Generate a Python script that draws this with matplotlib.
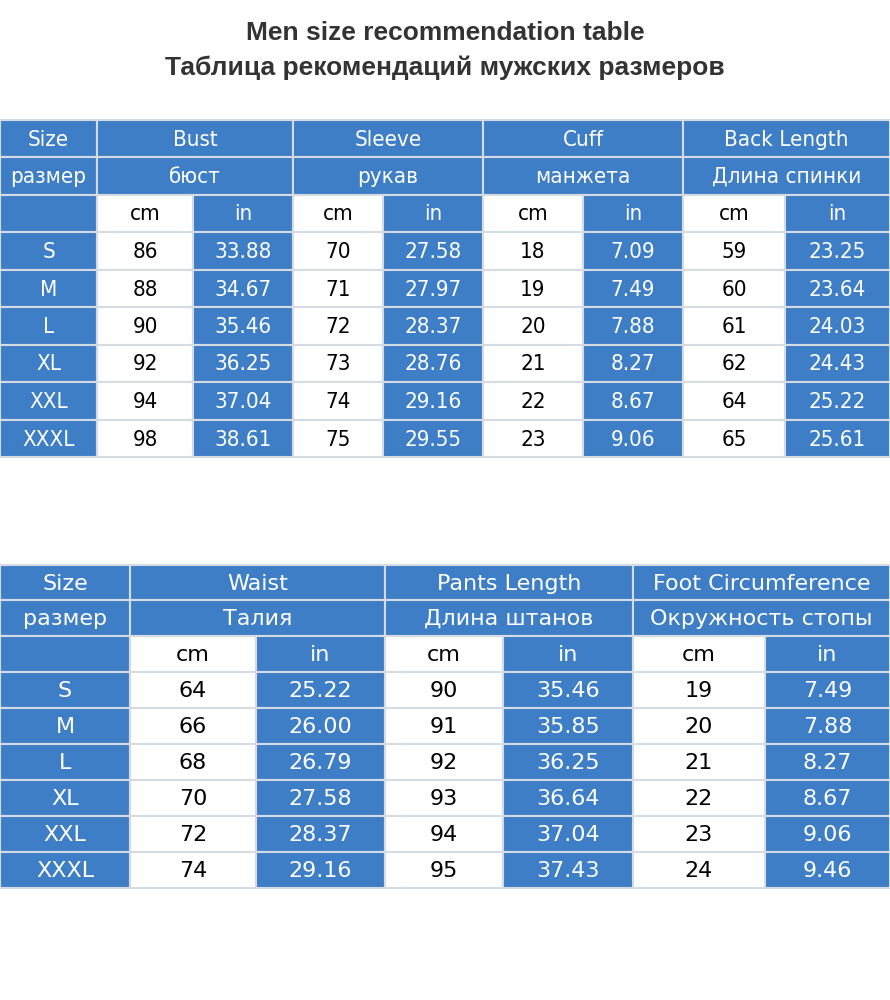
import matplotlib.pyplot as plt
from matplotlib.patches import Rectangle

BLUE = '#3d7ec6'
LINE = '#d4dbe3'

title_en = "Men size recommendation table"
title_ru = "Таблица рекомендаций мужских размеров"

sizes = ['S', 'M', 'L', 'XL', 'XXL', 'XXXL']

top_groups_en = ['Bust', 'Sleeve', 'Cuff', 'Back Length']
top_groups_ru = ['бюст', 'рукав', 'манжета', 'Длина спинки']
bust_cm = ['86', '88', '90', '92', '94', '98']
bust_in = ['33.88', '34.67', '35.46', '36.25', '37.04', '38.61']
sleeve_cm = ['70', '71', '72', '73', '74', '75']
sleeve_in = ['27.58', '27.97', '28.37', '28.76', '29.16', '29.55']
cuff_cm = ['18', '19', '20', '21', '22', '23']
cuff_in = ['7.09', '7.49', '7.88', '8.27', '8.67', '9.06']
back_cm = ['59', '60', '61', '62', '64', '65']
back_in = ['23.25', '23.64', '24.03', '24.43', '25.22', '25.61']

bot_groups_en = ['Waist', 'Pants Length', 'Foot Circumference']
bot_groups_ru = ['Талия', 'Длина штанов', 'Окружность стопы']
waist_cm = ['64', '66', '68', '70', '72', '74']
waist_in = ['25.22', '26.00', '26.79', '27.58', '28.37', '29.16']
pants_cm = ['90', '91', '92', '93', '94', '95']
pants_in = ['35.46', '35.85', '36.25', '36.64', '37.04', '37.43']
foot_cm = ['19', '20', '21', '22', '23', '24']
foot_in = ['7.49', '7.88', '8.27', '8.67', '9.06', '9.46']

fig = plt.figure(figsize=(8.9, 10), dpi=100)
ax = fig.add_axes([0, 0, 1, 1])
ax.set_xlim(0, 890)
ax.set_ylim(1000, 0)
ax.axis('off')


def cell(x0, x1, y0, y1, text, blue, fs, font):
    ax.add_patch(Rectangle((x0, y0), x1 - x0, y1 - y0, facecolor=BLUE if blue else 'white',
                           edgecolor=LINE, linewidth=1.5))
    ax.text((x0 + x1) / 2, (y0 + y1) / 2 + 1, text, ha='center', va='center', fontsize=fs,
            color='white' if blue else 'black', **font)


def table(xs, ys, groups_en, groups_ru, cols, fs, font):
    # xs: column edges (size col + 2 per group), ys: row edges (3 header + 6 data)
    cell(xs[0], xs[1], ys[0], ys[1], 'Size', True, fs, font)
    cell(xs[0], xs[1], ys[1], ys[2], 'размер', True, fs, font)
    cell(xs[0], xs[1], ys[2], ys[3], '', True, fs, font)
    for g, (en, ru) in enumerate(zip(groups_en, groups_ru)):
        a, b, c = xs[1 + 2 * g], xs[2 + 2 * g], xs[3 + 2 * g]
        cell(a, c, ys[0], ys[1], en, True, fs, font)
        cell(a, c, ys[1], ys[2], ru, True, fs, font)
        cell(a, b, ys[2], ys[3], 'cm', False, fs, font)
        cell(b, c, ys[2], ys[3], 'in', True, fs, font)
    for r, s in enumerate(sizes):
        y0, y1 = ys[3 + r], ys[4 + r]
        cell(xs[0], xs[1], y0, y1, s, True, fs, font)
        for g in range(len(groups_en)):
            cell(xs[1 + 2 * g], xs[2 + 2 * g], y0, y1, cols[2 * g][r], False, fs, font)
            cell(xs[2 + 2 * g], xs[3 + 2 * g], y0, y1, cols[2 * g + 1][r], True, fs, font)


ax.text(445, 33, title_en, ha='center', va='center', fontsize=19, fontweight='bold',
        color='#333333', family='Liberation Sans')
ax.text(445, 68, title_ru, ha='center', va='center', fontsize=19, fontweight='bold',
        color='#333333', family='Liberation Sans')

top_x = [0, 97, 193, 293, 383, 483, 583, 683, 785, 890]
top_y = [120, 157, 195, 232, 270, 307, 345, 382, 420, 457]
table(top_x, top_y, top_groups_en, top_groups_ru,
      [bust_cm, bust_in, sleeve_cm, sleeve_in, cuff_cm, cuff_in, back_cm, back_in],
      16, dict(family='DejaVu Sans', fontstretch='condensed'))

bot_x = [0, 130, 256, 385, 503, 633, 765, 890]
bot_y = [565, 600, 636, 672, 708, 744, 780, 816, 852, 888]
table(bot_x, bot_y, bot_groups_en, bot_groups_ru,
      [waist_cm, waist_in, pants_cm, pants_in, foot_cm, foot_in],
      16, dict(family='DejaVu Sans'))

fig.savefig('out.png', dpi=100, facecolor='white')
